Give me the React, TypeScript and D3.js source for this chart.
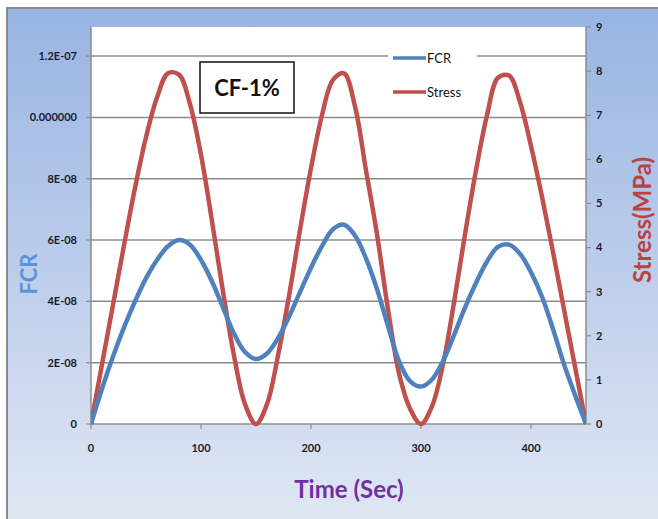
import React from "react";
import * as d3 from "d3";

const times = [0,10,20,30,40,50,60,70,80,90,100,110,120,130,140,150,160,170,180,190,200,210,220,230,240,250,260,270,280,290,300,310,320,330,340,350,360,370,380,390,400,410,420,430,440,450];
const fcrE8 = [0,1.15,2.2,3.15,4.0,4.75,5.35,5.8,6.0,5.85,5.35,4.65,3.8,2.95,2.35,2.12,2.3,2.8,3.5,4.3,5.1,5.8,6.35,6.5,6.15,5.4,4.4,3.2,2.05,1.4,1.22,1.45,2.05,2.9,3.8,4.6,5.3,5.78,5.85,5.55,4.95,4.15,3.1,1.95,0.95,0];
const fcr = fcrE8.map(v => v * 1e-8);
const stress = [0,1.35,2.7,4.05,5.35,6.5,7.4,7.95,7.92,7.25,6.1,4.6,3.0,1.55,0.45,0,0.45,1.55,2.9,4.4,5.8,7.0,7.8,7.95,7.2,5.75,4.3,2.6,1.15,0.35,0,0.4,1.35,2.75,4.3,5.75,7.0,7.85,7.9,7.3,6.3,5.15,3.9,2.6,1.3,0];
const xTicks = [0,100,200,300,400];
const leftTicks = [0,2e-8,4e-8,6e-8,8e-8,1e-7,1.2e-7];
const leftLabels = ["0","2E-08","4E-08","6E-08","8E-08","0.000000","1.2E-07"];
const rightTicks = [0,1,2,3,4,5,6,7,8,9];

const L = 91, R = 586, T = 27, B = 424;
const FONT = "Lato, 'Open Sans', sans-serif";

export default function App() {
  const x = d3.scaleLinear().domain([0, 450]).range([L, R]);
  const yL = d3.scaleLinear().domain([0, 1.295e-7]).range([B, T]);
  const yR = d3.scaleLinear().domain([0, 9]).range([B, T]);
  const curve = d3.curveCatmullRom.alpha(0.5);
  const fcrLine = d3.line<number>().x((_, i) => x(times[i])).y(d => yL(d)).curve(curve)(fcr) || "";
  const stressLine = d3.line<number>().x((_, i) => x(times[i])).y(d => yR(d)).curve(curve)(stress) || "";

  return (
    <svg width={658} height={519} style={{ position: "absolute", left: 0, top: 0 }} fontFamily={FONT}>
      <defs>
        <linearGradient id="bg" x1="0" y1="0" x2="0" y2="1">
          <stop offset="0" stopColor="#98b4e2" />
          <stop offset="0.5" stopColor="#bccdeb" />
          <stop offset="1" stopColor="#e1e8f4" />
        </linearGradient>
        <clipPath id="plot"><rect x={L} y={T - 4} width={R - L} height={B - T + 8} /></clipPath>
      </defs>
      <rect x={0} y={0} width={658} height={519} fill="#ffffff" />
      <rect x={7} y={8} width={660} height={520} fill="url(#bg)" stroke="#8a8a8a" strokeWidth={2} />
      <rect x={L} y={T} width={R - L} height={B - T} fill="#ffffff" />
      {leftTicks.map((t, i) => (
        <g key={"l" + i}>
          {t > 0 && <line x1={L} x2={R} y1={yL(t)} y2={yL(t)} stroke="#8c8c8c" strokeWidth={1.5} />}
          <line x1={L - 5} x2={L} y1={yL(t)} y2={yL(t)} stroke="#8c8c8c" strokeWidth={1.2} />
          <text x={77} y={yL(t)} dy="0.35em" textAnchor="end" fontSize={11} fontWeight="bold" fill="#1a1a2e">{leftLabels[i]}</text>
        </g>
      ))}
      {rightTicks.map((t, i) => (
        <g key={"r" + i}>
          <line x1={R} x2={R + 5} y1={yR(t)} y2={yR(t)} stroke="#8c8c8c" strokeWidth={1.2} />
          <text x={596} y={yR(t)} dy="0.35em" textAnchor="start" fontSize={11} fontWeight="bold" fill="#1a1a2e">{t}</text>
        </g>
      ))}
      {xTicks.map((t, i) => (
        <g key={"x" + i}>
          <line x1={x(t)} x2={x(t)} y1={B} y2={B + 5} stroke="#8c8c8c" strokeWidth={1.2} />
          <text x={x(t)} y={452} textAnchor="middle" fontSize={11} fontWeight="bold" fill="#1a1a2e">{t}</text>
        </g>
      ))}
      <line x1={L} x2={L} y1={T} y2={B} stroke="#8c8c8c" strokeWidth={1.5} />
      <line x1={R} x2={R} y1={T} y2={B} stroke="#8c8c8c" strokeWidth={1.5} />
      <line x1={L} x2={R} y1={B} y2={B} stroke="#8c8c8c" strokeWidth={1.5} />

      <rect x={388} y={46} width={89} height={56} fill="#ffffff" />
      <line x1={393} x2={426} y1={58} y2={58} stroke="#4f81bd" strokeWidth={3.5} />
      <text x={427} y={58} dy="0.35em" fontSize={13} fill="#111">FCR</text>
      <line x1={393} x2={426} y1={92} y2={92} stroke="#c0504d" strokeWidth={3.5} />
      <text x={427} y={92} dy="0.35em" fontSize={13} fill="#111">Stress</text>

      <g clipPath="url(#plot)">
        <path d={stressLine} fill="none" stroke="#c0504d" strokeWidth={4.5} strokeLinejoin="round" />
        <path d={fcrLine} fill="none" stroke="#4f81bd" strokeWidth={4.5} strokeLinejoin="round" />
      </g>

      <rect x={200} y={62} width={94} height={51} fill="#ffffff" stroke="#111" strokeWidth={1.5} />
      <text x={247} y={88} dy="0.35em" textAnchor="middle" fontSize={22} fontWeight="bold" fill="#111">CF-1%</text>

      <text transform="translate(37,274) rotate(-90)" textAnchor="middle" fontSize={22} fontWeight="bold" fill="#5b93d8">FCR</text>
      <text transform="translate(651,220) rotate(-90)" textAnchor="middle" fontSize={24} fontWeight="bold" fill="#b8433f">Stress(MPa)</text>
      <text x={349} y={498} textAnchor="middle" fontSize={24} fontWeight="bold" fill="#7030a0">Time (Sec)</text>
    </svg>
  );
}
